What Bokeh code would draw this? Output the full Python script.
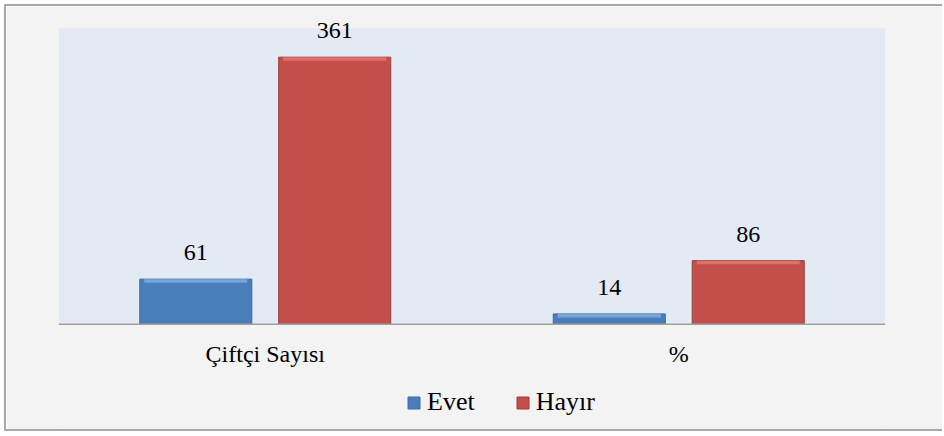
from bokeh.plotting import figure
from bokeh.models import (ColumnDataSource, FactorRange, Range1d, LabelSet, Legend, LegendItem,
                          BoxAnnotation, Span)
from bokeh.core.properties import value
from bokeh.transform import dodge
from bokeh.embed import file_html
from bokeh.resources import INLINE

categories = ["Çiftçi Sayısı", "%"]
evet = [61, 14]
hayir = [361, 86]
series_names = ["Evet", "Hayır"]
y_max = 400

FONT = "Liberation Serif, Times New Roman, serif"
BLUE = "#4A7EBB"
BLUE_HI = "#7DB2DE"
BLUE_EDGE = "#3B6A9F"
RED = "#C24F4A"
RED_HI = "#E6776F"
RED_EDGE = "#9E3B37"

src = ColumnDataSource(dict(
    cat=categories,
    zero=[0] * len(categories),
    evet=evet,
    hayir=hayir,
    evet_lbl=[str(v) for v in evet],
    hayir_lbl=[str(v) for v in hayir],
    evet_hi=[v - 5 for v in evet],
    hayir_hi=[v - 5 for v in hayir],
))

p = figure(
    width=938, height=427,
    x_range=FactorRange(factors=categories),
    y_range=Range1d(-147.6, 420),
    output_backend="svg",
    toolbar_location=None,
    min_border_left=52, min_border_right=59, min_border_top=7, min_border_bottom=0,
)
p.styles = {"border-left": "2px solid #A8A8A8", "border-top": "2px solid #A8A8A8",
            "border-bottom": "2px solid #A8A8A8", "margin-left": "4px", "margin-top": "4px"}
p.border_fill_color = "#F3F3F3"
p.background_fill_color = "#F3F3F3"
p.outline_line_color = None
p.xgrid.visible = False
p.ygrid.visible = False
p.yaxis.visible = False
p.xaxis.visible = False

p.add_layout(BoxAnnotation(bottom=0, top=y_max, fill_color="#E4EAF4", fill_alpha=1,
                           line_color=None, level="underlay"))
p.add_layout(Span(location=0, dimension="width", line_color="#A0A0A0", line_width=1.5))

off = 0.168
w = 0.271
r1 = p.vbar(x=dodge("cat", -off, range=p.x_range), top="evet", width=w, source=src,
            fill_color=BLUE, line_color=BLUE_EDGE, line_width=1)
p.vbar(x=dodge("cat", -off, range=p.x_range), top="evet", bottom="evet_hi", width=w * 0.92,
       source=src, fill_color=BLUE_HI, line_color=None, fill_alpha=0.8)
r2 = p.vbar(x=dodge("cat", off, range=p.x_range), top="hayir", width=w, source=src,
            fill_color=RED, line_color=RED_EDGE, line_width=1)
p.vbar(x=dodge("cat", off, range=p.x_range), top="hayir", bottom="hayir_hi", width=w * 0.92,
       source=src, fill_color=RED_HI, line_color=None, fill_alpha=0.8)

for col, lbl, o in [("evet", "evet_lbl", -off), ("hayir", "hayir_lbl", off)]:
    ls = LabelSet(x=dodge("cat", o, range=p.x_range), y=col, text=lbl, source=src,
                  y_offset=19, text_align="center", text_baseline="alphabetic",
                  text_font=value(FONT), text_font_size=value("24px"), text_color="#000000")
    p.add_layout(ls)

# category labels under the baseline
p.add_layout(LabelSet(x="cat", y="zero", text="cat", source=src, y_offset=-38,
                      text_align="center", text_baseline="alphabetic",
                      text_font=value(FONT), text_font_size=value("24px"), text_color="#000000"))

legend = Legend(
    items=[LegendItem(label=series_names[0], renderers=[r1]),
           LegendItem(label=series_names[1], renderers=[r2])],
    orientation="horizontal",
    location=(348, 16),
    label_text_font=FONT, label_text_font_size="26px", label_text_color="#000000",
    glyph_width=15, glyph_height=15, label_standoff=6, spacing=40,
    padding=0, margin=0, border_line_color=None, background_fill_alpha=0,
)
p.add_layout(legend, "center")

open("out.html", "w").write(file_html(p, INLINE))
